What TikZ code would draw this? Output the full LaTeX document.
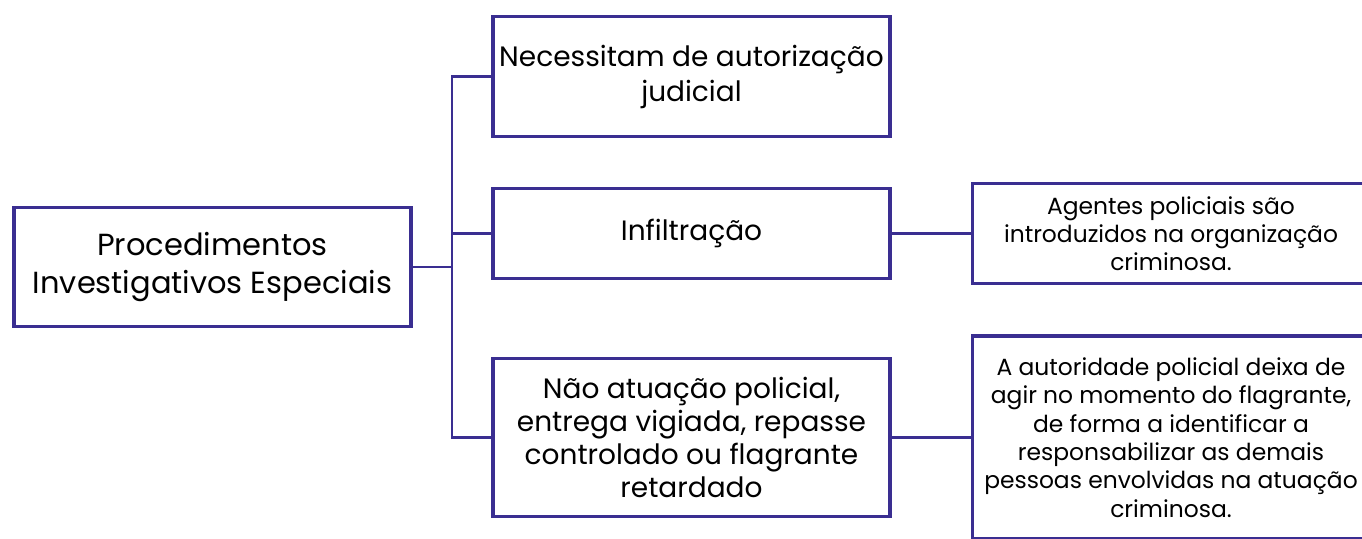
\documentclass[tikz,border=0pt]{standalone}
\usepackage{fontspec}
\setmainfont{Poppins}
\usepackage{xcolor}
\definecolor{indigo}{RGB}{58,46,145}
\usetikzlibrary{arrows.meta}
\tikzset{%
    procbox/.style={%
        draw=indigo, line width=3.8pt, fill=white, rectangle,
        minimum width=397pt, align=center, inner sep=0pt,
        font=\fontsize{28}{33}\selectfont
    },
    rootbox/.style={%
        procbox, font=\fontsize{30.5}{38}\selectfont
    },
    notebox/.style={%
        procbox, font=\fontsize{23.4}{28.3}\selectfont
    },
    link/.style={draw=indigo, line width=2.3pt}
}
\begin{document}
\begin{tikzpicture}[x=1pt,y=-1pt]
    \useasboundingbox (0,0) rectangle (1362,538);
    \clip (0,0) rectangle (1362,538);
    \node[rootbox, minimum height=119pt] (root) at (212.5,267) {Procedimentos\\Investigativos Especiais};
    \node[procbox, minimum height=120pt, font=\fontsize{28}{35}\selectfont] (auth) at (691.5,76.5) {Necessitam de autorização\\judicial};
    \node[procbox, minimum height=90pt] (infil) at (691.5,233.5) {Infiltração};
    \node[procbox, minimum height=158pt] (naoat) at (691.5,437.5) {Não atuação policial,\\entrega vigiada, repasse\\controlado ou flagrante\\retardado};
    \node[notebox, minimum height=100pt] (agents) at (1171,233.5) {Agentes policiais são\\introduzidos na organização\\criminosa.};
    \node[notebox, minimum height=203pt] (deixa) at (1171,437.5) {A autoridade policial deixa de\\agir no momento do flagrante,\\de forma a identificar a\\responsabilizar as demais\\pessoas envolvidas na atuação\\criminosa.};
    \draw[link] (root.east) -- ++(39,0) coordinate (fork);
    \draw[link] (auth.west) -| (fork) |- (naoat.west);
    \draw[link] (fork |- infil.west) -- (infil.west);
    \draw[link] (infil.east) -- (agents.west);
    \draw[link] (naoat.east) -- (deixa.west);
\end{tikzpicture}
\end{document}
